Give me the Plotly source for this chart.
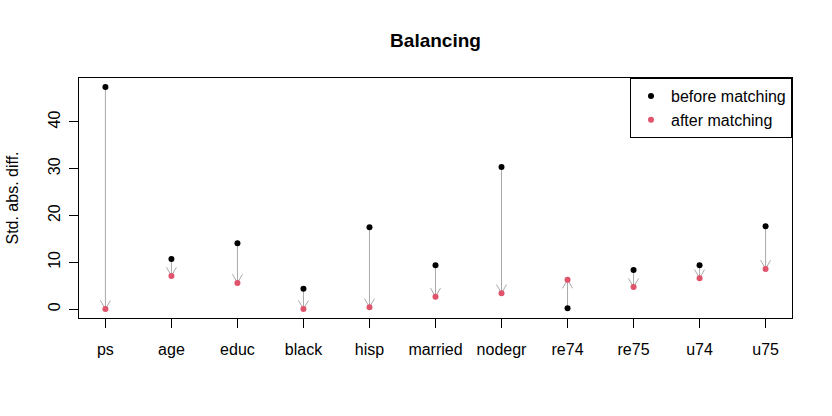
import math
import plotly.graph_objects as go

categories = ["ps", "age", "educ", "black", "hisp", "married", "nodegr", "re74", "re75", "u74", "u75"]
before = [47.5, 10.7, 14.1, 4.35, 17.5, 9.4, 30.4, 0.2, 8.35, 9.4, 17.7]
after = [0.0, 7.1, 5.6, 0.0, 0.4, 2.65, 3.4, 6.3, 4.7, 6.6, 8.6]
y_ticks = [0, 10, 20, 30, 40]

W, H = 832, 416
ML, MR, MT, MB = 79, 40, 78, 98
pw, ph = W - ML - MR, H - MT - MB

xs = list(range(1, len(categories) + 1))
x_range = [0.6, len(categories) + 0.4]
ymax = max(before + after)
ymin = min(before + after)
pad = (ymax - ymin) * 0.04
y_range = [ymin - pad, ymax + pad]

ppx = pw / (x_range[1] - x_range[0])
ppy = ph / (y_range[1] - y_range[0])
L = 10.0
ang = math.radians(30)
dx = L * math.sin(ang) / ppx
dy = L * math.cos(ang) / ppy

ax, ay = [], []
for x, b, a in zip(xs, before, after):
    s = 1 if b > a else -1
    ax += [x, x, None, x - dx, x, x + dx, None]
    ay += [b, a, None, a + s * dy, a, a + s * dy, None]

fig = go.Figure()
fig.add_trace(go.Scatter(x=ax, y=ay, mode="lines", line=dict(color="#A9A9A9", width=1),
                         showlegend=False, hoverinfo="skip"))
fig.add_trace(go.Scatter(x=xs, y=before, mode="markers", name="before matching",
                         marker=dict(color="black", size=6)))
fig.add_trace(go.Scatter(x=xs, y=after, mode="markers", name="after matching",
                         marker=dict(color="#DF536B", size=6)))

font = dict(family="Liberation Sans, Arial, sans-serif", size=16, color="black")
fig.update_layout(
    width=W, height=H,
    margin=dict(l=ML, r=MR, t=MT, b=MB, autoexpand=False),
    paper_bgcolor="white", plot_bgcolor="white",
    font=font,
    title=dict(text="<b>Balancing</b>", x=ML / W + pw / W / 2, xanchor="center",
               y=1 - 40 / H, yanchor="middle", yref="container",
               font=dict(family="Liberation Sans, Arial, sans-serif", size=19, color="black")),
    legend=dict(x=1, y=1, xanchor="right", yanchor="top", bordercolor="black", borderwidth=1,
                bgcolor="white", font=font, itemsizing="trace", tracegroupgap=0),
    showlegend=True,
)
fig.update_xaxes(range=x_range, tickmode="array", tickvals=xs, ticktext=categories,
                 showgrid=False, zeroline=False, showline=True, mirror=True,
                 linecolor="black", linewidth=1, ticks="outside", ticklen=9,
                 tickcolor="black", ticklabelstandoff=8, automargin=False)
fig.update_yaxes(range=y_range, tickmode="array", tickvals=y_ticks, ticktext=[str(v) for v in y_ticks],
                 tickangle=-90, showgrid=False, zeroline=False, showline=True, mirror=True,
                 linecolor="black", linewidth=1, ticks="outside", ticklen=9,
                 tickcolor="black", ticklabelstandoff=3, automargin=False,
                 title=dict(text="Std. abs. diff.", standoff=22, font=font))

fig.write_html("out.html")
